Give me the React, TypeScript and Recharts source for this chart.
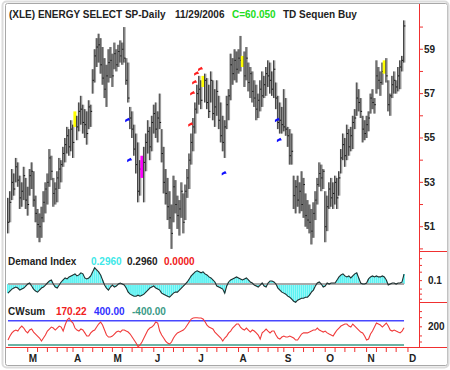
import React from "react";
import { ComposedChart, Bar, Line, Scatter, XAxis, YAxis, ReferenceLine } from "recharts";

// month labels on the time axis and the bar index where each month starts
const monthLabels = ["M", "A", "M", "J", "J", "A", "S", "O", "N", "D"];
const monthStarts = [10, 33, 53, 74, 96, 117, 140, 161, 182, 203];

// daily bars, mid Feb to 11/29/2006
const highs = [
  52.3, 52.6, 53.6, 53.4, 54.1, 53.9, 53.3, 53.0, 53.7, 53.2,
  52.8, 53.6, 53.9, 53.5, 52.4, 51.8, 51.6, 51.9, 52.6, 53.0, 53.4, 54.5, 54.2, 53.2, 53.0, 53.5, 54.1, 54.0, 54.6, 55.0, 55.5, 55.4, 55.8,
  55.6, 56.2, 56.0, 56.6, 56.9, 56.5, 56.3, 56.2, 56.7, 56.5, 58.1, 59.0, 59.5, 59.7, 59.5, 59.1, 58.6, 58.3, 59.0,
  59.1, 58.8, 59.3, 59.0, 59.2, 59.4, 59.3, 60.0, 58.6, 58.4, 56.4, 56.2, 55.6, 55.2, 54.8, 54.0, 54.2, 54.6, 55.2, 55.8, 55.5, 56.0,
  56.5, 56.6, 56.2, 57.0, 55.4, 54.6, 53.6, 53.2, 52.6, 52.0, 53.3, 53.1, 52.4, 52.2, 53.0, 52.5, 52.9, 53.6, 54.3, 55.2, 55.9, 56.6,
  57.4, 57.8, 57.6, 57.8, 57.9, 57.7, 57.4, 58.0, 57.6, 57.2, 57.6, 56.9, 56.6, 56.0, 55.8, 56.9, 57.2, 58.8, 58.6, 59.0,
  58.9, 59.0, 59.6, 58.7, 58.9, 59.1, 58.4, 58.2, 58.0, 57.6, 57.4, 57.0, 57.6, 58.0, 57.8, 58.2, 58.5, 58.4, 58.0, 58.5, 57.5, 56.9, 56.6,
  56.4, 57.2, 56.8, 55.5, 55.4, 55.2, 53.3, 53.1, 53.3, 53.0, 53.5, 53.2, 52.5, 52.2, 52.0, 51.8, 52.1, 52.6, 53.2, 53.9,
  53.8, 53.6, 52.6, 52.4, 53.0, 53.2, 53.0, 53.3, 53.2, 53.5, 54.5, 55.2, 55.0, 55.6, 55.4, 55.5, 56.0, 56.3, 57.5, 57.2, 56.8, 56.0,
  55.8, 56.0, 56.2, 57.0, 57.2, 56.8, 58.5, 58.2, 58.0, 58.4, 58.5, 58.6, 57.6, 57.0, 57.8, 58.0, 57.6, 58.2, 58.5, 58.7, 60.3,
];
const lows = [
  50.7, 51.2, 52.2, 52.4, 53.0, 52.8, 51.8, 51.9, 52.2, 51.8,
  51.5, 52.4, 52.7, 51.9, 51.2, 50.5, 50.3, 50.5, 51.2, 51.6, 52.0, 52.8, 53.1, 51.9, 52.0, 52.1, 52.7, 53.0, 53.7, 53.9, 54.3, 54.2, 54.4,
  54.1, 55.5, 54.9, 55.3, 55.6, 55.2, 55.0, 54.7, 55.4, 55.5, 57.0, 57.5, 58.2, 58.4, 57.9, 57.4, 56.8, 56.4, 57.5,
  57.7, 57.3, 58.1, 58.0, 58.2, 58.4, 58.3, 58.4, 57.4, 56.6, 55.4, 55.0, 54.2, 53.4, 52.1, 52.4, 53.2, 52.1, 53.5, 54.3, 54.0, 54.4,
  55.2, 55.0, 54.8, 55.4, 53.9, 52.5, 52.0, 51.3, 50.9, 50.0, 51.2, 51.6, 50.9, 50.6, 51.4, 50.7, 51.3, 52.3, 52.7, 53.8, 54.4, 55.2,
  56.1, 56.5, 56.3, 57.3, 56.6, 56.3, 55.9, 56.6, 55.8, 55.5, 56.0, 55.4, 54.8, 54.4, 54.1, 55.4, 55.8, 56.7, 57.4, 57.6,
  57.5, 57.9, 58.0, 58.2, 57.3, 57.6, 57.1, 56.8, 56.6, 56.4, 55.8, 55.9, 56.2, 56.4, 56.8, 56.9, 57.3, 57.0, 56.9, 56.8, 56.3, 55.4, 55.2,
  55.2, 55.3, 55.1, 54.6, 53.8, 53.8, 51.8, 51.6, 51.9, 51.6, 51.7, 51.4, 51.0, 50.9, 50.7, 50.2, 50.5, 51.3, 52.0, 52.8,
  52.6, 52.7, 50.3, 50.8, 51.8, 51.9, 51.8, 52.0, 51.8, 52.4, 53.4, 54.0, 53.7, 54.0, 54.2, 54.4, 54.5, 55.4, 56.0, 56.2, 55.9, 54.8,
  54.9, 55.0, 55.3, 56.1, 56.3, 56.1, 57.0, 57.2, 56.9, 57.4, 57.9, 57.5, 56.2, 56.0, 56.8, 57.0, 57.0, 57.1, 57.2, 58.0, 58.4,
];
const closes = [
  51.2, 52.1, 53.0, 52.7, 53.7, 53.1, 52.3, 52.6, 53.3, 52.2,
  52.0, 53.3, 53.5, 52.2, 51.6, 51.1, 51.0, 51.4, 52.1, 52.7, 53.0, 54.1, 53.5, 52.5, 52.7, 53.2, 53.6, 53.8, 54.3, 54.7, 55.1, 54.6, 55.4,
  54.8, 55.9, 55.5, 56.2, 56.3, 55.7, 55.6, 55.2, 56.4, 56.2, 57.6, 58.7, 59.1, 59.2, 58.3, 57.7, 57.2, 57.8, 58.4,
  58.5, 57.8, 58.8, 58.3, 58.9, 58.7, 59.0, 58.6, 57.6, 56.8, 55.9, 55.4, 54.5, 53.8, 52.6, 53.6, 53.4, 53.9, 54.8, 55.3, 54.6, 55.7,
  56.1, 55.4, 55.9, 55.7, 54.3, 53.0, 52.5, 51.9, 51.4, 50.7, 52.8, 52.0, 51.5, 51.8, 52.6, 51.2, 52.6, 53.2, 54.0, 54.8, 55.5, 56.3,
  57.0, 57.2, 56.7, 57.4, 57.6, 56.6, 56.2, 57.6, 56.1, 56.4, 57.1, 55.8, 55.1, 54.8, 55.5, 56.5, 56.9, 58.3, 57.9, 58.5,
  58.1, 58.6, 58.5, 58.3, 57.8, 58.6, 57.5, 57.9, 57.1, 56.8, 56.3, 56.7, 57.2, 56.9, 57.4, 57.9, 57.8, 57.6, 57.2, 58.1, 56.8, 55.7, 55.8,
  55.6, 55.5, 55.4, 55.1, 54.2, 54.4, 52.4, 52.8, 52.2, 52.6, 52.0, 52.9, 51.5, 51.3, 51.2, 50.8, 51.6, 52.2, 52.9, 53.4,
  53.2, 53.5, 51.0, 51.9, 52.7, 52.3, 52.5, 53.0, 52.3, 53.2, 54.1, 54.7, 54.2, 55.2, 54.6, 55.1, 55.7, 55.9, 56.8, 56.6, 56.2, 55.4,
  55.2, 55.6, 55.9, 56.8, 56.6, 56.5, 57.8, 57.6, 57.5, 58.0, 58.2, 57.8, 56.5, 56.9, 57.4, 57.6, 57.3, 57.8, 58.2, 58.5, 60.05,
];

// TD sequential highlights and signal flags
const yellowBars = [34, 99, 119, 191];
const magentaBars = [68];
const blueFlagIdx = [61, 62, 110, 137, 138];
const blueFlagPrice = [55.8, 54.0, 53.4, 55.8, 54.9];
const redFlagIdx = [93, 94, 95, 96, 98];
const redFlagPrice = [55.6, 57.0, 57.5, 57.9, 58.1];

const demandIndex = [
  -0.27, -0.21, -0.15, -0.12, -0.09, -0.12, -0.18, -0.15, -0.12, -0.06,
  0, 0.03, -0.06, -0.15, -0.21, -0.24, -0.18, -0.12, -0.09, -0.03, 0.03, 0.09, 0.12, 0, -0.09, -0.12, -0.03, 0.06, 0.12, 0.18, 0.15, 0.21, 0.24,
  0.27, 0.3, 0.24, 0.27, 0.33, 0.3, 0.18, 0.15, 0.18, 0.24, 0.36, 0.48, 0.42, 0.36, 0.27, 0.12, -0.03, -0.12, -0.18,
  -0.09, -0.03, -0.09, -0.06, 0, 0.03, 0, -0.03, -0.12, -0.24, -0.3, -0.33, -0.36, -0.36, -0.33, -0.36, -0.33, -0.3, -0.24, -0.18, -0.12, -0.09,
  -0.06, -0.12, -0.15, -0.18, -0.27, -0.3, -0.33, -0.36, -0.39, -0.33, -0.27, -0.24, -0.24, -0.18, -0.12, -0.06, 0, 0.06, 0.15, 0.24, 0.3, 0.36,
  0.39, 0.36, 0.33, 0.36, 0.3, 0.27, 0.21, 0.18, 0.12, 0.06, -0.06, -0.09, -0.12, -0.15, -0.27, -0.06, 0.06, 0.12, 0.15, 0.18,
  0.21, 0.18, 0.15, 0.12, 0.15, 0.18, 0.12, 0.06, 0.03, -0.03, -0.06, -0.09, -0.03, 0.03, -0.06, -0.09, 0.03, 0.09, 0.09, 0.06, 0, -0.12, -0.18,
  -0.24, -0.27, -0.3, -0.36, -0.39, -0.45, -0.51, -0.54, -0.48, -0.45, -0.42, -0.42, -0.39, -0.39, -0.33, -0.24, -0.18, -0.06, 0.03, 0.06,
  0, -0.09, -0.06, 0.03, 0, 0.03, 0.03, 0.03, 0.12, 0.21, 0.27, 0.3, 0.24, 0.21, 0.24, 0.18, 0.24, 0.3, 0.33, 0.18, 0.03, 0,
  0, 0.03, 0.15, 0.21, 0.24, 0.21, 0.24, 0.21, 0.21, 0.24, 0.21, 0.12, -0.03, 0, 0.03, 0.03, 0, 0.03, 0.03, 0.06, 0.296,
];

const cwSum = [
  -235, -104, 0, 60, 94, 60, 160, 225, 160, 60,
  0, 94, 127, 28, -38, -104, -170, -268, -170, -71, 60, 127, 192, 160, 94, 160, 225, 192, 60, 258, 422, 488, 390,
  324, 160, 94, 60, 127, 94, 0, -104, -104, 0, 60, 94, 192, 291, 357, 258, 94, -71, -137,
  -137, -104, -38, 28, 60, 28, 94, 94, 60, 28, -38, -137, -235, -334, -450, -400, -301, -170, -38, 94, 160, 192,
  258, 357, 324, 60, -71, -170, -268, -334, -367, -301, -170, -71, 0, 28, 60, 94, 160, 258, 357, 455, 488, 498,
  498, 488, 488, 455, 367, 258, 192, 160, 127, 28, -38, -104, -170, -268, -170, -104, 0, 60, 160, 225,
  291, 291, 192, 127, 94, 160, 94, 28, 94, 60, 0, -71, -203, 0, 60, 127, 60, 0, 60, 60, -71, -170, -203,
  -137, -104, -137, -137, -104, -137, -170, -235, -235, -137, -38, 0, 0, 0, 28, 60, 94, 94, 160, 94,
  60, 28, 60, 0, -38, -71, -104, 0, 94, 160, 225, 258, 291, 291, 225, 192, 291, 225, 160, 94, 28, 0,
  -104, -235, -203, -38, 60, 192, 324, 291, 258, 192, 258, 324, 225, 94, 60, 94, 60, 28, 0, 60, 170.22,
];
const cwUpper = 400;
const cwLower = -400;

const N = highs.length;
const X_DOMAIN: [number, number] = [-0.5, 208.6];
const FONT = "'Liberation Sans', Arial, sans-serif";
const RED = "#f03030";

const priceRows = highs.map((h, i) => ({
  i,
  range: [lows[i], h],
  high: h,
  low: lows[i],
  close: closes[i],
  tone: yellowBars.includes(i) ? "#ffff00" : magentaBars.includes(i) ? "#ff00ff" : "",
}));
const blueFlags = blueFlagIdx.map((i, k) => ({ i, p: blueFlagPrice[k] }));
const redFlags = redFlagIdx.map((i, k) => ({ i, p: redFlagPrice[k] }));
const diRows = demandIndex.map((v, i) => ({ i, di: v }));
const cwRows = cwSum.map((v, i) => ({ i, cw: v }));

const weekTicks: number[] = [];
monthStarts.forEach((s, m) => {
  const next = monthStarts[m + 1] ?? N;
  for (let t = s + 5; t < next - 2; t += 5) weekTicks.push(t);
});
const axisTicks = [...monthStarts, ...weekTicks].sort((a, b) => a - b);

const PriceBar = (props: any) => {
  const { x, y, width, height, payload } = props;
  const top = Math.min(y, y + height);
  const h = Math.max(Math.abs(height), 1);
  const cx = x + width / 2;
  const cy = top + ((payload.high - payload.close) / (payload.high - payload.low)) * h;
  if (payload.tone) {
    return <rect x={cx - 1.5} y={top} width={3} height={h} fill={payload.tone} />;
  }
  return (
    <g>
      <rect x={cx - 0.5} y={top} width={2} height={h} fill="#9c9c9c" />
      <line x1={cx - 0.4} x2={cx - 0.4} y1={top} y2={top + h} stroke="#222" strokeWidth={0.8} />
      <line x1={cx} x2={cx + 1.5} y1={cy} y2={cy} stroke="#111" strokeWidth={1} />
    </g>
  );
};

const Flag = (color: string) => (props: any) => {
  const { cx, cy } = props;
  return (
    <path
      d={`M${cx - 3},${cy + 2} L${cx - 3},${cy - 0.5} L${cx + 0.5},${cy - 2.5} L${cx + 2},${cy} L${cx - 0.5},${cy + 0.5} Z`}
      fill={color}
    />
  );
};

const RightTick = (show: (v: number) => boolean, fmt: (v: number) => string) => (props: any) => {
  const { x, y, payload } = props;
  if (!show(payload.value)) return <g />;
  return (
    <text x={x} y={y} dy="0.35em" textAnchor="start" fill="#222" fontSize={10} fontWeight="bold" fontFamily={FONT}>
      {fmt(payload.value)}
    </text>
  );
};

const MonthTick = (props: any) => {
  const { x, y, payload } = props;
  const m = monthStarts.indexOf(payload.value);
  if (m < 0) return <g />;
  return (
    <text x={x + 1} y={y} dy="0.75em" fill="#222" fontSize={10} fontWeight="bold" fontFamily={FONT}>
      {monthLabels[m]}
    </text>
  );
};

export default function App() {
  return (
    <div style={{ position: "absolute", left: 0, top: 0, width: 450, height: 370, background: "#fff" }}>
      <div style={{ position: "absolute", left: 0, top: 0 }}>
        <ComposedChart width={450} height={251} data={priceRows} margin={{ top: 8, right: 0, bottom: 1, left: 7 }}>
          <XAxis dataKey="i" type="number" domain={X_DOMAIN} hide allowDataOverflow />
          <YAxis
            orientation="right"
            width={31}
            domain={[49.95, 60.86]}
            allowDataOverflow
            ticks={[50, 51, 52, 53, 54, 55, 56, 57, 58, 59, 60]}
            interval={0}
            axisLine={false}
            tickLine={{ stroke: RED }}
            tickSize={4}
            tickMargin={1}
            tick={RightTick((v) => v % 2 === 1, (v) => String(v))}
          />
          <Bar dataKey="range" barSize={3} shape={PriceBar} isAnimationActive={false} />
          <Scatter data={blueFlags} dataKey="p" shape={Flag("#1010ff")} isAnimationActive={false} />
          <Scatter data={redFlags} dataKey="p" shape={Flag("#ff2020")} isAnimationActive={false} />
        </ComposedChart>
      </div>

      <div style={{ position: "absolute", left: 0, top: 251 }}>
        <ComposedChart width={450} height={52} data={diRows} margin={{ top: 0, right: 0, bottom: 0, left: 7 }}>
          <XAxis dataKey="i" type="number" domain={X_DOMAIN} hide allowDataOverflow />
          <YAxis
            orientation="right"
            width={31}
            domain={[-0.562, 0.977]}
            allowDataOverflow
            ticks={[-0.45, -0.3, -0.15, 0.1, 0.35, 0.55, 0.75]}
            interval={0}
            axisLine={false}
            tickLine={{ stroke: RED }}
            tickSize={3}
            tickMargin={6}
            tick={RightTick((v) => v === 0.1, (v) => v.toFixed(1))}
          />
          <Bar dataKey="di" fill="#5cf2f2" barSize={2} isAnimationActive={false} />
          <ReferenceLine segment={[{ x: 0, y: 0 }, { x: N - 1, y: 0 }]} stroke="#a9a9a9" strokeWidth={2} />
          <Line dataKey="di" type="linear" stroke="#1e2e2e" strokeWidth={1.1} dot={false} isAnimationActive={false} />
        </ComposedChart>
      </div>

      <div style={{ position: "absolute", left: 0, top: 303 }}>
        <ComposedChart width={450} height={67} data={cwRows} margin={{ top: 0, right: 0, bottom: 0, left: 7 }}>
          <XAxis
            dataKey="i"
            type="number"
            domain={X_DOMAIN}
            allowDataOverflow
            height={23}
            ticks={axisTicks}
            interval={0}
            axisLine={false}
            tickLine={{ stroke: RED }}
            tickSize={5}
            tickMargin={2}
            tick={MonthTick}
          />
          <YAxis
            orientation="right"
            width={31}
            domain={[-464, 983]}
            allowDataOverflow
            ticks={[-300, -100, 200, 500, 700]}
            interval={0}
            axisLine={false}
            tickLine={{ stroke: RED }}
            tickSize={3}
            tickMargin={6}
            tick={RightTick((v) => v === 200, (v) => String(v))}
          />
          <ReferenceLine segment={[{ x: 0, y: cwUpper }, { x: N - 1, y: cwUpper }]} stroke="#4848ff" strokeWidth={1.5} />
          <ReferenceLine segment={[{ x: 0, y: cwLower }, { x: N - 1, y: cwLower }]} stroke="#3a9a86" strokeWidth={1.5} />
          <Line dataKey="cw" type="linear" stroke="#f03a3a" strokeWidth={1.1} dot={false} isAnimationActive={false} />
        </ComposedChart>
      </div>

      <svg width={450} height={370} style={{ position: "absolute", left: 0, top: 0, pointerEvents: "none" }}>
        <rect x={5.5} y={3.5} width={442} height={362} rx={2} fill="none" stroke="#a8a8a8" strokeWidth={1} />
        <rect x={2.5} y={1.5} width={446} height={366} rx={4} fill="none" stroke="#dcdcdc" strokeWidth={2} />
        <line x1={419.5} x2={419.5} y1={4} y2={347} stroke={RED} strokeWidth={1} />
        <line x1={419} x2={447} y1={251.5} y2={251.5} stroke={RED} strokeWidth={1} />
        <line x1={419} x2={447} y1={302.5} y2={302.5} stroke={RED} strokeWidth={1} />
        <line x1={6} x2={447} y1={347.5} y2={347.5} stroke={RED} strokeWidth={1} />
        <g fontFamily={FONT} fontWeight="bold" fontSize={10} fill="#222">
          <text x={9} y={18}>(XLE) ENERGY SELECT SP-Daily</text>
          <text x={175} y={18}>11/29/2006</text>
          <text x={232} y={18} fill="#22dd22">C={closes[N - 1].toFixed(3)}</text>
          <text x={283} y={18}>TD Sequen Buy</text>
          <text x={8} y={265}>Demand Index</text>
          <text x={91} y={265} fill="#40e8e8">{demandIndex[N - 1].toFixed(4)}</text>
          <text x={127} y={265}>{demandIndex[N - 1].toFixed(4)}</text>
          <text x={164} y={265} fill="#f02020">0.0000</text>
          <text x={8} y={315}>CWsum</text>
          <text x={56} y={315} fill="#f02020">{cwSum[N - 1].toFixed(2)}</text>
          <text x={94} y={315} fill="#3030ff">{cwUpper.toFixed(2)}</text>
          <text x={132} y={315} fill="#3a9a86">{cwLower.toFixed(2)}</text>
        </g>
      </svg>
    </div>
  );
}
